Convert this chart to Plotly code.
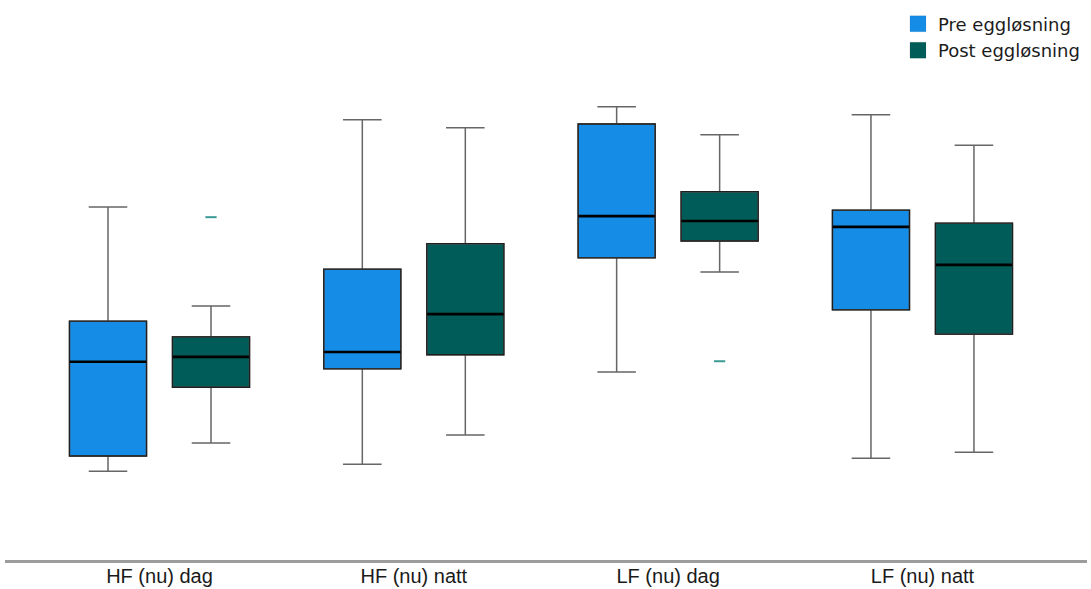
import plotly.graph_objects as go

categories = ["HF (nu) dag", "HF (nu) natt", "LF (nu) dag", "LF (nu) natt"]
series_names = ["Pre eggløsning", "Post eggløsning"]

# Box statistics per category (normalized units)
pre_lower = [16.4, 17.7, 34.7, 18.8]
pre_q1 = [19.2, 35.3, 55.8, 46.2]
pre_median = [36.6, 38.4, 63.5, 61.5]
pre_q3 = [44.1, 53.7, 80.5, 64.6]
pre_upper = [65.2, 81.3, 83.7, 82.2]

post_lower = [21.6, 23.1, 53.2, 19.9]
post_q1 = [31.9, 37.9, 58.9, 41.7]
post_median = [37.5, 45.4, 62.6, 54.5]
post_q3 = [41.2, 58.4, 68.0, 62.2]
post_upper = [46.9, 79.8, 78.5, 76.6]

# Outliers (post series): category index and value
post_outlier_cat = [0, 2]
post_outlier_val = [63.3, 36.7]

PRE_COLOR = "#158ce6"
POST_COLOR = "#005c59"
WHISKER = "#666666"
EDGE = "#1e1e1e"
OFFSET = 0.2025
BOX_W = 0.303

fig = go.Figure()

def add_series(name, color, xs, lo, q1, med, q3, up):
    # whiskers + filled box
    fig.add_trace(go.Box(
        x=xs, q1=q1, median=med, q3=q3, lowerfence=lo, upperfence=up,
        width=BOX_W, whiskerwidth=0.5, fillcolor=color,
        line=dict(color=WHISKER, width=1.5), showlegend=False,
        hoverinfo="skip", boxpoints=False))
    # dark box outline
    fig.add_trace(go.Box(
        x=xs, q1=q1, median=med, q3=q3, lowerfence=q1, upperfence=q3,
        width=BOX_W, whiskerwidth=0, fillcolor="rgba(0,0,0,0)",
        line=dict(color=EDGE, width=1.3), showlegend=False,
        hoverinfo="skip", boxpoints=False))
    # thick median
    fig.add_trace(go.Box(
        x=xs, q1=med, median=med, q3=med, lowerfence=med, upperfence=med,
        width=BOX_W * 0.99, whiskerwidth=0, fillcolor="rgba(0,0,0,0)",
        line=dict(color="#000000", width=2.6), showlegend=False,
        hoverinfo="skip", boxpoints=False))
    # legend entry
    fig.add_trace(go.Scatter(
        x=[None], y=[None], mode="markers", name=name,
        marker=dict(symbol="square", size=16, color=color,
                    line=dict(color="rgba(0,0,0,0.15)", width=0.5))))

idx = list(range(len(categories)))
x_pre = [i - OFFSET for i in idx]
x_post = [i + OFFSET for i in idx]

add_series(series_names[0], PRE_COLOR, x_pre, pre_lower, pre_q1, pre_median, pre_q3, pre_upper)
add_series(series_names[1], POST_COLOR, x_post, post_lower, post_q1, post_median, post_q3, post_upper)

fig.add_trace(go.Scatter(
    x=[c + OFFSET for c in post_outlier_cat], y=post_outlier_val, mode="markers",
    marker=dict(symbol="line-ew", size=8, line=dict(color="#3a9a94", width=2)),
    showlegend=False, hoverinfo="skip"))

fig.update_layout(
    width=1091, height=589,
    margin=dict(l=5, r=4, t=0, b=29),
    paper_bgcolor="white", plot_bgcolor="white",
    boxmode="overlay",
    showlegend=True,
    legend=dict(x=0.8253, y=0.99, xanchor="left", yanchor="top",
                font=dict(family="DejaVu Sans, sans-serif", size=18, color="#1c1c1c"),
                bgcolor="rgba(0,0,0,0)", tracegroupgap=0, itemwidth=30),
    xaxis=dict(range=[-0.6075, 3.647], tickmode="array", tickvals=idx, ticktext=categories,
               showgrid=False, zeroline=False, showline=True, linecolor="#9c9c9c", linewidth=2.5,
               ticks="", automargin=False, ticklabelstandoff=-4,
               tickfont=dict(family="Liberation Sans, Arial, sans-serif",
                             size=20, color="#1a1a1a")),
    yaxis=dict(range=[0, 103.4], visible=False, showgrid=False, zeroline=False),
)

fig.write_html("out.html")
